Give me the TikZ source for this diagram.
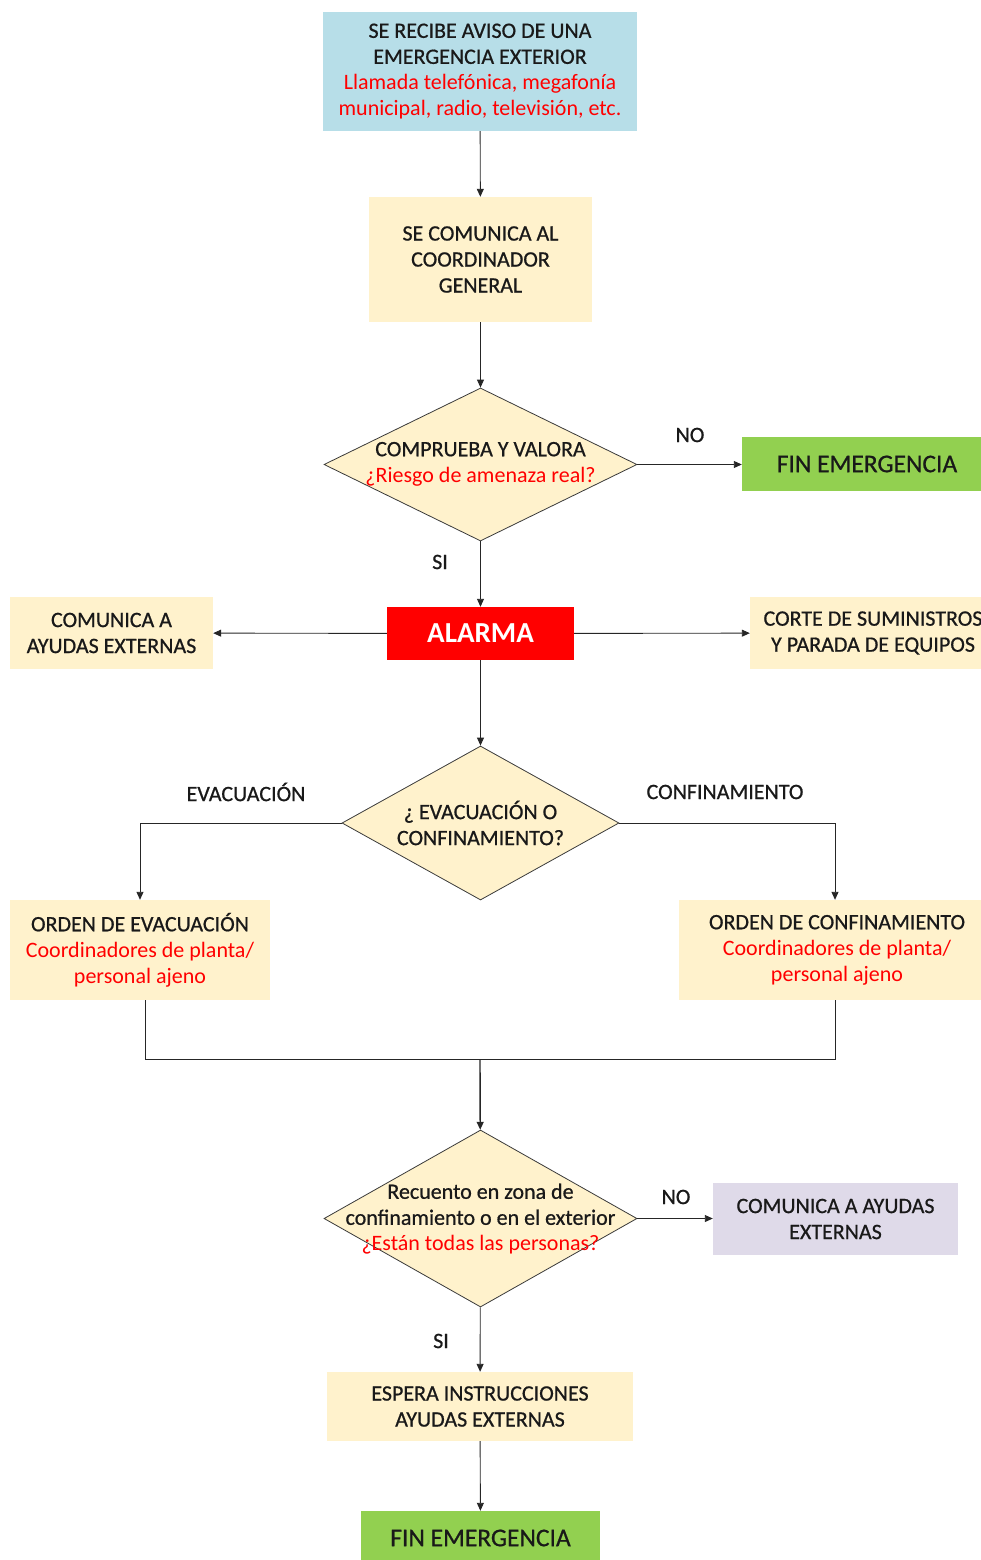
\documentclass[tikz,border=0pt]{standalone}
\usepackage{fontspec}
\setmainfont{Carlito}
\newfontfamily\blkfont{Carlito}[FakeBold=0.7]
\newfontfamily\redfont{Carlito}
\newcommand{\redln}[1]{{\redfont\color{alred}#1}}
\usetikzlibrary{shapes.geometric,arrows.meta}
\definecolor{cream}{HTML}{FFF2CC}
\definecolor{lblue}{HTML}{B7DEE8}
\definecolor{lgreen}{HTML}{92D050}
\definecolor{lav}{HTML}{DFDAE9}
\definecolor{dline}{HTML}{3A3A3A}
\definecolor{alred}{HTML}{FF0000}
\begin{document}
\begin{tikzpicture}[x=1pt,y=-1pt,
  txt/.style={font=\blkfont\fontsize{22}{26}\selectfont, text=black!90, align=center, inner sep=0pt},
  box/.style={rectangle, inner sep=0pt, align=center, txt},
  dia/.style={diamond, draw=dline, line width=0.8pt, fill=cream, inner sep=0pt},
  arr/.style={draw=black!85, line width=0.9pt, -{Triangle[width=7pt,length=8pt]}},
  ln/.style={draw=black!85, line width=0.9pt},
  lab/.style={font=\blkfont\fontsize{22}{24}\selectfont, text=black!90}]
\useasboundingbox (0,0) rectangle (980,1560);

\node[box, fill=lblue, minimum width=314, minimum height=119] (b1) at (480,71.5)
  {SE RECIBE AVISO DE UNA\\EMERGENCIA EXTERIOR\\\redln{Llamada telefónica, megafonía}\\\redln{municipal, radio, televisión, etc.}};
\node[box, fill=cream, minimum width=223, minimum height=125] (b2) at (480.5,259.5)
  {SE COMUNICA AL\\COORDINADOR\\GENERAL};
\node[dia, minimum width=313, minimum height=153] (d1) at (480.5,464.5) {};
\node[txt] (d1t) at (480.5,464) {COMPRUEBA Y VALORA\\\redln{¿Riesgo de amenaza real?}};
\node[box, fill=lgreen, minimum width=250, minimum height=54, font=\blkfont\fontsize{25.5}{26}\selectfont] (fin1) at (867,464)
  {FIN EMERGENCIA};
\node[box, fill=alred, minimum width=187, minimum height=53, text=white, font=\fontsize{29}{30}\selectfont\bfseries] (alarma) at (480.5,633.5)
  {ALARMA};
\node[box, fill=cream, minimum width=203, minimum height=72] (ay1) at (111.5,633)
  {COMUNICA A\\AYUDAS EXTERNAS};
\node[box, fill=cream, minimum width=246, minimum height=72] (corte) at (873,633)
  {CORTE DE SUMINISTROS\\Y PARADA DE EQUIPOS};
\node[dia, minimum width=277, minimum height=154] (d2) at (480.5,823) {};
\node[txt] (d2t) at (480.5,823) {¿ EVACUACIÓN O\\CONFINAMIENTO?};
\node[box, fill=cream, minimum width=260, minimum height=100] (evac) at (140,950)
  {ORDEN DE EVACUACIÓN\\\redln{Coordinadores de planta/}\\\redln{personal ajeno}};
\node[box, fill=cream, minimum width=316, minimum height=100] (conf) at (837,950)
  {ORDEN DE CONFINAMIENTO\\\redln{Coordinadores de planta/}\\\redln{personal ajeno}};
\coordinate (m) at (480,1059);
\node[dia, minimum width=313, minimum height=177] (d3) at (480.5,1218.5) {};
\node[txt] (d3t) at (480.5,1219)
  {Recuento en zona de\\confinamiento o en el exterior\\\redln{¿Están todas las personas?}};
\node[box, fill=lav, minimum width=245, minimum height=72] (ay2) at (835.5,1219)
  {COMUNICA A AYUDAS\\EXTERNAS};
\node[box, fill=cream, minimum width=306, minimum height=69] (esp) at (480,1406.5)
  {ESPERA INSTRUCCIONES\\AYUDAS EXTERNAS};
\node[box, fill=lgreen, minimum width=239, minimum height=54, font=\blkfont\fontsize{25.5}{26}\selectfont] (fin2) at (480.5,1538)
  {FIN EMERGENCIA};

\node[lab] (lno1) at (690,435) {NO};
\node[lab] (lsi1) at (440,562) {SI};
\node[lab] (levac) at (246,792) {EVACUACIÓN};
\node[lab] (lconf) at (725,792) {CONFINAMIENTO};
\node[lab] (lno2) at (676,1197) {NO};
\node[lab] (lsi2) at (441,1341) {SI};

\draw[arr] (b1) -- (b2);
\draw[arr] (b2) -- (d1);
\draw[arr] (d1.east) -- (fin1.west |- d1.east);
\draw[arr] (d1) -- (alarma);
\draw[arr] (alarma) -- (ay1);
\draw[arr] (alarma) -- (corte);
\draw[arr] (alarma) -- (d2);
\draw[arr] (d2.west) -| (evac.north);
\draw[arr] (d2.east) -| ([xshift=-2pt]conf.north);
\draw[ln] ([xshift=5pt]evac.south) |- (m);
\draw[ln] ([xshift=-2pt]conf.south) |- (m);
\draw[arr, line width=1.4pt] (m) -- (d3);
\draw[arr] (d3.east) -- (ay2.west |- d3.east);
\draw[arr] (d3) -- (esp);
\draw[arr] (esp) -- (fin2);
\end{tikzpicture}
\end{document}
